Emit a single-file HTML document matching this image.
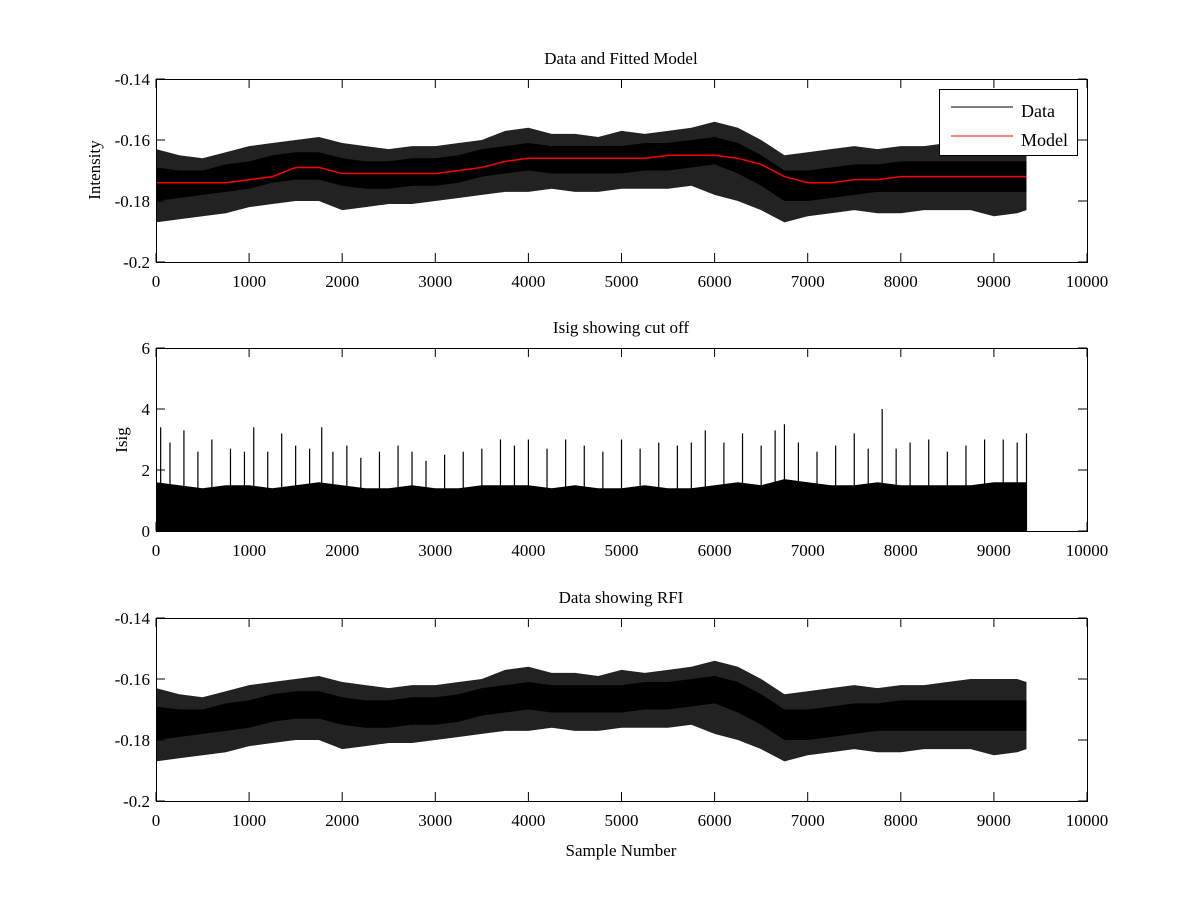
<!DOCTYPE html>
<html><head><meta charset="utf-8"><style>
body{margin:0;background:#fff}
svg{display:block}
text{font-family:"Liberation Serif",serif;font-size:17px;fill:#000}
</style></head><body>
<svg id="fig" width="1200" height="900" xmlns="http://www.w3.org/2000/svg"></svg>
<script>
// ---- data ----
const binSamples=[0,250,500,750,1000,1250,1500,1750,2000,2250,2500,2750,3000,3250,3500,3750,4000,4250,4500,4750,5000,5250,5500,5750,6000,6250,6500,6750,7000,7250,7500,7750,8000,8250,8500,8750,9000,9250,9350];
const dataHi=[-0.163,-0.165,-0.166,-0.164,-0.162,-0.161,-0.160,-0.159,-0.161,-0.162,-0.163,-0.162,-0.162,-0.161,-0.160,-0.157,-0.156,-0.158,-0.158,-0.159,-0.157,-0.158,-0.157,-0.156,-0.154,-0.156,-0.160,-0.165,-0.164,-0.163,-0.162,-0.163,-0.162,-0.162,-0.161,-0.160,-0.160,-0.160,-0.161];
const dataLo=[-0.187,-0.186,-0.185,-0.184,-0.182,-0.181,-0.180,-0.180,-0.183,-0.182,-0.181,-0.181,-0.180,-0.179,-0.178,-0.177,-0.177,-0.176,-0.177,-0.177,-0.176,-0.176,-0.176,-0.175,-0.178,-0.180,-0.183,-0.187,-0.185,-0.184,-0.183,-0.184,-0.184,-0.183,-0.183,-0.183,-0.185,-0.184,-0.183];
const coreHi=[-0.169,-0.170,-0.170,-0.168,-0.167,-0.165,-0.164,-0.164,-0.166,-0.167,-0.167,-0.166,-0.166,-0.165,-0.163,-0.162,-0.161,-0.162,-0.162,-0.162,-0.162,-0.161,-0.161,-0.160,-0.159,-0.161,-0.165,-0.170,-0.170,-0.169,-0.168,-0.168,-0.167,-0.167,-0.167,-0.167,-0.167,-0.167,-0.167];
const coreLo=[-0.180,-0.179,-0.178,-0.177,-0.176,-0.174,-0.173,-0.173,-0.175,-0.176,-0.176,-0.175,-0.175,-0.174,-0.172,-0.171,-0.170,-0.171,-0.171,-0.171,-0.171,-0.170,-0.170,-0.169,-0.168,-0.171,-0.175,-0.180,-0.180,-0.179,-0.178,-0.177,-0.177,-0.177,-0.177,-0.177,-0.177,-0.177,-0.177];
const modelVal=[-0.174,-0.174,-0.174,-0.174,-0.173,-0.172,-0.169,-0.169,-0.171,-0.171,-0.171,-0.171,-0.171,-0.170,-0.169,-0.167,-0.166,-0.166,-0.166,-0.166,-0.166,-0.166,-0.165,-0.165,-0.165,-0.166,-0.168,-0.172,-0.174,-0.174,-0.173,-0.173,-0.172,-0.172,-0.172,-0.172,-0.172,-0.172,-0.172];
const isigBand=[1.6,1.5,1.4,1.5,1.5,1.4,1.5,1.6,1.5,1.4,1.4,1.5,1.4,1.4,1.5,1.5,1.5,1.4,1.5,1.4,1.4,1.5,1.4,1.4,1.5,1.6,1.5,1.7,1.6,1.5,1.5,1.6,1.5,1.5,1.5,1.5,1.6,1.6,1.6];
const spikeSamples=[50,150,300,450,600,800,950,1050,1200,1350,1500,1650,1780,1900,2050,2200,2400,2600,2750,2900,3100,3300,3500,3700,3850,4000,4200,4400,4600,4800,5000,5200,5400,5600,5750,5900,6100,6300,6500,6650,6750,6900,7100,7300,7500,7650,7800,7950,8100,8300,8500,8700,8900,9100,9250,9350];
const spikeVals=[3.4,2.9,3.3,2.6,3.0,2.7,2.6,3.4,2.6,3.2,2.8,2.7,3.4,2.6,2.8,2.4,2.6,2.8,2.6,2.3,2.5,2.6,2.7,3.0,2.8,3.0,2.7,3.0,2.8,2.6,3.0,2.7,2.9,2.8,2.9,3.3,2.9,3.2,2.8,3.3,3.5,2.9,2.6,2.8,3.2,2.7,4.0,2.7,2.9,3.0,2.6,2.8,3.0,3.0,2.9,3.2];
const xTicks=[0,1000,2000,3000,4000,5000,6000,7000,8000,9000,10000];
const yTicksI=[-0.2,-0.18,-0.16,-0.14];
const yTicksS=[0,2,4,6];

const NS="http://www.w3.org/2000/svg";
const svg=document.getElementById('fig');
function mk(tag,attrs,parent){const e=document.createElementNS(NS,tag);for(const k in attrs)e.setAttribute(k,attrs[k]);(parent||svg).appendChild(e);return e;}
const X0=156,X1=1087;
function sx(v){return X0+(v/10000)*(X1-X0);}
function makeY(top,bot,min,max){return v=>bot-(v-min)/(max-min)*(bot-top);}

function drawAxes(g,top,bot,yTicks,sy,fmt){
  for(const t of xTicks){
    const x=sx(t);
    const l1=mk('line',{x1:x,y1:bot,x2:x,y2:bot-9,stroke:'#000'},g);
    
    const l2=mk('line',{x1:x,y1:top,x2:x,y2:top+9,stroke:'#000'},g);
    
    const tx=mk('text',{x:x,y:bot+25,'text-anchor':'middle'},g);tx.textContent=t;
    
  }
  for(const t of yTicks){
    const y=sy(t);
    const l1=mk('line',{x1:X0,y1:y,x2:X0+9,y2:y,stroke:'#000'},g);
    
    const l2=mk('line',{x1:X1,y1:y,x2:X1-9,y2:y,stroke:'#000'},g);
    
    const tx=mk('text',{x:X0-6,y:y+6,'text-anchor':'end'},g);tx.textContent=fmt(t);
    
  }
  const r=mk('rect',{x:X0+0.5,y:top+0.5,width:X1-X0,height:bot-top,fill:'none',stroke:'#000'},g);
  
}
function band(g,hi,lo,sy,name,fill){
  let pts=binSamples.map((s,i)=>sx(s)+','+sy(hi[i]));
  pts=pts.concat(binSamples.map((s,i)=>sx(s)+','+sy(lo[i])).reverse());
  const p=mk('polygon',{points:pts.join(' '),fill:fill},g);
  
}
const fmtI=t=>t===-0.2?'-0.2':t.toFixed(2);

// ---- panel 1 ----
{
  const top=79,bot=262;const sy=makeY(top,bot,-0.2,-0.14);
  const g=mk('g',{});
  band(g,dataHi,dataLo,sy,'data-series','#222');
  band(g,coreHi,coreLo,sy,'data-core','#000');
  const pl=mk('polyline',{points:binSamples.map((s,i)=>sx(s)+','+sy(modelVal[i])).join(' '),fill:'none',stroke:'#f00','stroke-width':1.5},g);
  
  drawAxes(g,top,bot,yTicksI,sy,fmtI);
  const t=mk('text',{x:621,y:64,'text-anchor':'middle'},g);t.textContent='Data and Fitted Model';
  
  const yl=mk('text',{x:100,y:170,'text-anchor':'middle',transform:'rotate(-90 100 170)'},g);yl.textContent='Intensity';
  
  const lg=mk('g',{},g);
  mk('rect',{x:939.5,y:89.5,width:138,height:66,fill:'#fff',stroke:'#000'},lg);
  const e1=mk('line',{x1:951,x2:1013,y1:107,y2:107,stroke:'#000'},lg);
  const t1=mk('text',{x:1021,y:117},lg);t1.textContent='Data';t1.style.fontSize='18px';
  const e2=mk('line',{x1:951,x2:1013,y1:136,y2:136,stroke:'#f00'},lg);
  const t2=mk('text',{x:1021,y:146},lg);t2.textContent='Model';t2.style.fontSize='18px';
}
// ---- panel 2 ----
{
  const top=348,bot=531;const sy=makeY(top,bot,0,6);
  const g=mk('g',{});
  const lo=binSamples.map(()=>0);
  band(g,isigBand,lo,sy,'isig-series','#000');
  spikeSamples.forEach((s,i)=>{
    const l=mk('line',{x1:sx(s),x2:sx(s),y1:sy(0),y2:sy(spikeVals[i]),stroke:'#000','stroke-width':1.2},g);
    
  });
  drawAxes(g,top,bot,yTicksS,sy,t=>String(t));
  const t=mk('text',{x:621,y:333,'text-anchor':'middle'},g);t.textContent='Isig showing cut off';
  
  const yl=mk('text',{x:127,y:440,'text-anchor':'middle',transform:'rotate(-90 127 440)'},g);yl.textContent='Isig';
  
}
// ---- panel 3 ----
{
  const top=618,bot=801;const sy=makeY(top,bot,-0.2,-0.14);
  const g=mk('g',{});
  band(g,dataHi,dataLo,sy,'rfi-data-series','#222');
  band(g,coreHi,coreLo,sy,'rfi-data-core','#000');
  drawAxes(g,top,bot,yTicksI,sy,fmtI);
  const t=mk('text',{x:621,y:603,'text-anchor':'middle'},g);t.textContent='Data showing RFI';
  
  const xl=mk('text',{x:621,y:856,'text-anchor':'middle'},g);xl.textContent='Sample Number';
  
}
</script>
</body></html>
